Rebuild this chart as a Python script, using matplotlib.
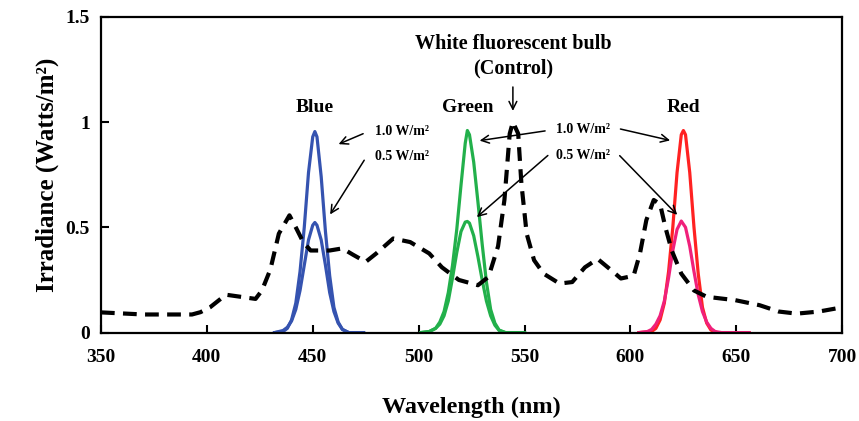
import matplotlib
matplotlib.use('Agg')
import matplotlib.pyplot as plt

plt.rcParams['font.family'] = 'Liberation Serif'
plt.rcParams['font.weight'] = 'bold'

# White fluorescent bulb (control), dashed curve
wl_white = [350, 370, 393, 397, 401.5, 409, 416, 423, 426, 430, 434, 439, 442, 445.5, 449,
            458, 464, 469, 475, 480, 488, 496, 505, 511, 519, 528, 533, 537.5, 540.5, 543,
            544.5, 547, 548.5, 551, 554.5, 559, 566.5, 572.5, 578.5, 584.5, 590.5, 595.5,
            601.5, 604.5, 607.5, 611, 614, 616.5, 619.5, 624, 630, 636, 649.5, 661, 670,
            678.5, 689, 700]
irr_white = [0.096, 0.086, 0.086, 0.097, 0.12, 0.18, 0.17, 0.16, 0.20, 0.30, 0.47, 0.557, 0.50,
             0.43, 0.39, 0.39, 0.40, 0.37, 0.336, 0.376, 0.447, 0.43, 0.376, 0.31, 0.25, 0.225,
             0.265, 0.41, 0.63, 0.945, 1.0, 0.945, 0.71, 0.47, 0.344, 0.28, 0.233, 0.24, 0.31,
             0.35, 0.30, 0.257, 0.27, 0.376, 0.534, 0.63, 0.61, 0.50, 0.39, 0.28, 0.20, 0.17,
             0.154, 0.13, 0.10, 0.09, 0.10, 0.12]

# Blue LED
wl_blue = [432, 436, 438, 440, 442, 444, 446, 448, 450, 451, 452, 454, 456, 458, 460, 462, 464, 467, 474]
blue_10 = [0, 0.005, 0.02, 0.06, 0.14, 0.29, 0.50, 0.76, 0.93, 0.955, 0.93, 0.74, 0.48, 0.27, 0.12, 0.05, 0.015, 0, 0]
blue_05 = [0, 0.01, 0.025, 0.055, 0.11, 0.20, 0.32, 0.44, 0.51, 0.523, 0.51, 0.44, 0.32, 0.19, 0.10, 0.045, 0.015, 0, 0]

# Green LED
wl_green = [501, 505, 508, 510, 512, 514, 516, 518, 520, 522, 523, 524, 526, 528, 530, 532, 534, 536, 538, 541, 550]
green_10 = [0, 0.005, 0.02, 0.05, 0.10, 0.19, 0.32, 0.49, 0.70, 0.90, 0.96, 0.94, 0.81, 0.62, 0.42, 0.24, 0.11, 0.045, 0.012, 0, 0]
green_05 = [0, 0.005, 0.02, 0.04, 0.08, 0.15, 0.26, 0.38, 0.48, 0.525, 0.528, 0.52, 0.46, 0.36, 0.25, 0.15, 0.08, 0.035, 0.01, 0, 0]

# Red LED
wl_red10 = [604, 610, 612, 614, 616, 618, 620, 622, 624, 625, 626, 628, 630, 632, 634, 636, 638, 641, 656]
red_10 = [0, 0.005, 0.02, 0.06, 0.14, 0.29, 0.50, 0.76, 0.94, 0.96, 0.94, 0.76, 0.50, 0.28, 0.12, 0.045, 0.012, 0, 0]
wl_red05 = [604, 608, 610, 612, 614, 616, 618, 620, 622, 624, 626, 628, 630, 632, 634, 636, 638, 640, 643, 656]
red_05 = [0, 0.005, 0.015, 0.04, 0.08, 0.15, 0.26, 0.39, 0.49, 0.53, 0.50, 0.41, 0.29, 0.18, 0.10, 0.05, 0.02, 0.005, 0, 0]

xticks = [350, 400, 450, 500, 550, 600, 650, 700]
yticks = [0, 0.5, 1, 1.5]
ytick_labels = ['0', '0.5', '1', '1.5']

fig = plt.figure(figsize=(8.59, 4.21), dpi=100)
ax = fig.add_axes([0.1175, 0.21, 0.863, 0.75])

blue_c = '#3553B0'
green_c = '#22B04B'
red_c = '#FF2222'
pink_c = '#F0207A'

ax.plot(wl_blue, blue_10, color=blue_c, lw=2.3)
ax.plot(wl_blue, blue_05, color=blue_c, lw=2.3)
ax.plot(wl_green, green_10, color=green_c, lw=2.3)
ax.plot(wl_green, green_05, color=green_c, lw=2.3)
ax.plot(wl_red10, red_10, color=red_c, lw=2.3)
ax.plot(wl_red05, red_05, color=pink_c, lw=2.3)
ax.plot(wl_white, irr_white, color='black', lw=3.0, ls=(0, (3.3, 2)))

ax.set_xlim(350, 700)
ax.set_ylim(0, 1.5)
ax.set_xticks(xticks)
ax.set_yticks(yticks)
ax.set_yticklabels(ytick_labels)
ax.tick_params(axis='x', direction='in', length=6, width=1.5, pad=12, labelsize=14)
ax.tick_params(axis='y', direction='in', length=6, width=1.5, pad=8, labelsize=14)
for s in ax.spines.values():
    s.set_linewidth(1.6)

ax.set_xlabel('Wavelength (nm)', fontsize=17.5, fontweight='bold', labelpad=22)
ax.set_ylabel('Irradiance (Watts/m²)', fontsize=18, fontweight='bold', labelpad=5)

# labels
ax.text(451, 1.03, 'Blue', ha='center', va='bottom', fontsize=14, fontweight='bold')
ax.text(523, 1.03, 'Green', ha='center', va='bottom', fontsize=14, fontweight='bold')
ax.text(625, 1.03, 'Red', ha='center', va='bottom', fontsize=14, fontweight='bold')
ax.text(544.5, 1.37, 'White fluorescent bulb', ha='center', va='center', fontsize=14.5, fontweight='bold')
ax.text(544.5, 1.255, '(Control)', ha='center', va='center', fontsize=14.5, fontweight='bold')

aprops = dict(arrowstyle='->', color='black', lw=1.1, mutation_scale=14)
ax.annotate('', xy=(544.5, 1.04), xytext=(544.5, 1.18), arrowprops=aprops)

# left power labels
ax.text(479.5, 0.955, '1.0 W/m²', ha='left', va='center', fontsize=10, fontweight='bold')
ax.text(479.5, 0.835, '0.5 W/m²', ha='left', va='center', fontsize=10, fontweight='bold')
ax.annotate('', xy=(461, 0.89), xytext=(475, 0.95), arrowprops=aprops)
ax.annotate('', xy=(457.5, 0.55), xytext=(475, 0.83), arrowprops=aprops)

# right power labels
ax.text(577.5, 0.965, '1.0 W/m²', ha='center', va='center', fontsize=10, fontweight='bold')
ax.text(577.5, 0.84, '0.5 W/m²', ha='center', va='center', fontsize=10, fontweight='bold')
ax.annotate('', xy=(527.5, 0.91), xytext=(561, 0.96), arrowprops=aprops)
ax.annotate('', xy=(620, 0.91), xytext=(594, 0.97), arrowprops=aprops)
ax.annotate('', xy=(526.5, 0.54), xytext=(562, 0.85), arrowprops=aprops)
ax.annotate('', xy=(623, 0.55), xytext=(594, 0.85), arrowprops=aprops)

fig.savefig('out.png', dpi=100)
